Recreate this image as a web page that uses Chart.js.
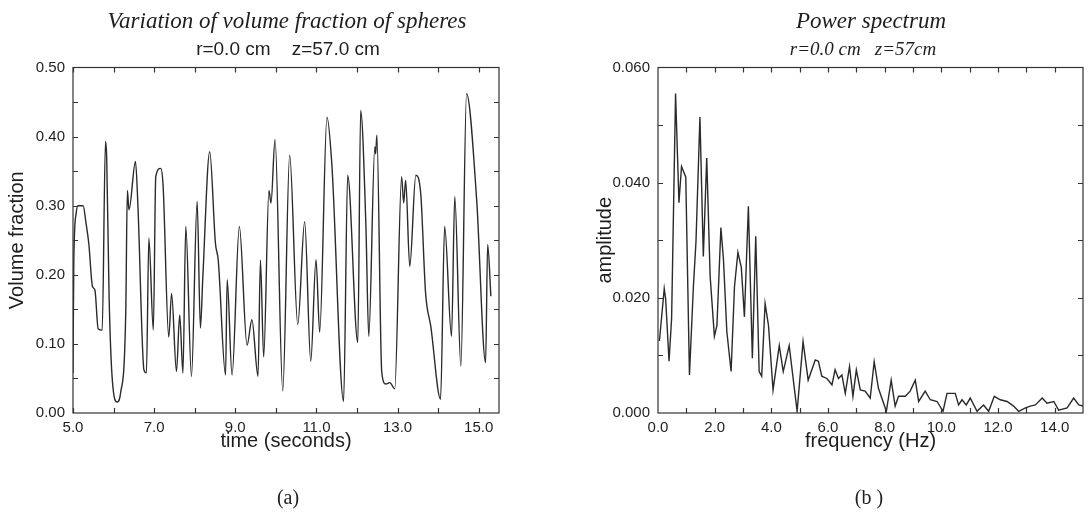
<!DOCTYPE html>
<html>
<head>
<meta charset="utf-8">
<script src="https://cdn.jsdelivr.net/npm/chart.js@4/dist/chart.umd.min.js"></script>
<style>
  body { margin: 0; background: #fff; width: 1091px; height: 517px; overflow: hidden; position: relative; }
  .box { position: absolute; top: 0; height: 517px; }
  .txt { position: absolute; transform: translate(-50%, -50%); white-space: pre; color: #1e1e1e; line-height: 1; }
  .serif { font-family: "Liberation Serif", "DejaVu Serif", serif; }
  .sans { font-family: "Liberation Sans", Arial, sans-serif; }
</style>
</head>
<body>
<div class="box" style="left:0;width:545px"><canvas id="chartA"></canvas></div>
<div class="box" style="left:545px;width:546px"><canvas id="chartB"></canvas></div>

<div class="txt serif" style="left:287px;top:20px;font-size:23px;font-style:italic">Variation of volume fraction of spheres</div>
<div class="txt sans" style="left:288px;top:48px;font-size:19px">r=0.0 cm    z=57.0 cm</div>
<div class="txt serif" style="left:871px;top:20px;font-size:23px;font-style:italic">Power spectrum</div>
<div class="txt serif" style="left:863px;top:48px;font-size:19px;font-style:italic">r=0.0 cm   z=57cm</div>
<div class="txt serif" style="left:288px;top:497px;font-size:20px">(a)</div>
<div class="txt serif" style="left:869px;top:497px;font-size:20px">(b )</div>

<script>
// (a) volume fraction vs time
const timeSec = [5.00, 5.02, 5.08, 5.12, 5.25, 5.32, 5.39, 5.48, 5.54, 5.62, 5.72, 5.80, 5.83, 5.89, 5.97,
  6.09, 6.17, 6.30, 6.34, 6.38, 6.54, 6.60, 6.75, 6.81, 6.87, 6.98, 7.04, 7.16, 7.22, 7.36, 7.43, 7.55,
  7.63, 7.71, 7.78, 7.92, 8.06, 8.14, 8.20, 8.37, 8.51, 8.58, 8.76, 8.80, 8.92, 9.10, 9.29, 9.41, 9.56,
  9.62, 9.70, 9.83, 9.88, 9.98, 10.17, 10.34, 10.54, 10.71, 10.86, 10.99, 11.08, 11.26, 11.38, 11.67,
  11.77, 12.02, 12.09, 12.22, 12.29, 12.44, 12.46, 12.49, 12.61, 12.71, 12.81, 12.93, 13.10, 13.15,
  13.20, 13.30, 13.45, 13.57, 13.69, 13.82, 14.06, 14.16, 14.33, 14.41, 14.56, 14.70, 14.95, 15.17,
  15.22, 15.30];
const volumeFraction = [0.058, 0.22, 0.29, 0.30, 0.30, 0.275, 0.245, 0.183, 0.178, 0.122, 0.12, 0.393, 0.37, 0.168, 0.047,
  0.016, 0.028, 0.145, 0.322, 0.294, 0.364, 0.30, 0.062, 0.058, 0.253, 0.12, 0.342, 0.354, 0.33, 0.11, 0.173, 0.06,
  0.142, 0.058, 0.27, 0.053, 0.306, 0.123, 0.197, 0.378, 0.246, 0.221, 0.055, 0.193, 0.055, 0.27, 0.098, 0.135, 0.053,
  0.221, 0.081, 0.322, 0.304, 0.396, 0.032, 0.373, 0.128, 0.277, 0.075, 0.222, 0.117, 0.428, 0.36, 0.017,
  0.344, 0.102, 0.438, 0.27, 0.111, 0.385, 0.375, 0.402, 0.059, 0.042, 0.044, 0.035, 0.342, 0.304,
  0.337, 0.212, 0.344, 0.318, 0.174, 0.125, 0.02, 0.27, 0.111, 0.313, 0.068, 0.462, 0.308, 0.073,
  0.244, 0.169];

// (b) power spectrum
const freqHz = [0.05, 0.22, 0.27, 0.39, 0.48, 0.62, 0.74, 0.83, 0.98, 1.11, 1.25, 1.34, 1.48, 1.60, 1.72, 1.84,
  1.99, 2.08, 2.22, 2.31, 2.43, 2.58, 2.70, 2.82, 2.94, 3.05, 3.19, 3.33, 3.45, 3.57, 3.66, 3.78, 3.90,
  4.06, 4.28, 4.42, 4.63, 4.91, 5.12, 5.30, 5.55, 5.66, 5.78, 5.96, 6.14, 6.25, 6.37, 6.49, 6.61, 6.76,
  6.88, 7.00, 7.14, 7.31, 7.49, 7.63, 7.78, 8.06, 8.23, 8.37, 8.49, 8.73, 8.90, 9.08, 9.20, 9.43, 9.61,
  9.85, 10.06, 10.20, 10.49, 10.61, 10.73, 10.88, 11.02, 11.26, 11.49, 11.67, 11.87, 12.08, 12.32, 12.55,
  12.73, 12.97, 13.14, 13.32, 13.56, 13.73, 13.97, 14.14, 14.44, 14.67, 14.85, 15.00];
const amplitude = [0.0125, 0.0216, 0.0198, 0.009, 0.0164, 0.0555, 0.0365, 0.0428, 0.041, 0.0066, 0.022, 0.0297, 0.0514, 0.0272, 0.0443, 0.0238,
  0.0133, 0.0152, 0.0322, 0.0267, 0.0141, 0.0072, 0.022, 0.0279, 0.0253, 0.0167, 0.0359, 0.0095, 0.0307, 0.0072, 0.0064, 0.019, 0.0152,
  0.004, 0.0117, 0.0072, 0.0117, 0.0003, 0.0124, 0.0057, 0.0092, 0.009, 0.0064, 0.006, 0.0049, 0.0075, 0.006, 0.0066, 0.0034, 0.0081,
  0.0029, 0.0075, 0.004, 0.0038, 0.0026, 0.0089, 0.0043, 0.0003, 0.0057, 0.0012, 0.0029, 0.0029, 0.0038, 0.0057, 0.002, 0.0038, 0.0023,
  0.002, 0.0003, 0.0034, 0.0034, 0.0014, 0.0023, 0.0014, 0.0026, 0.0003, 0.0014, 0.0003, 0.0029, 0.0023, 0.002, 0.0012,
  0.0003, 0.0009, 0.0012, 0.0014, 0.0026, 0.0017, 0.002, 0.0005, 0.0009, 0.0026, 0.0014, 0.0012];

// tick values
const xTicksA = [5, 7, 9, 11, 13, 15];
const xMinorA = [5, 6, 7, 8, 9, 10, 11, 12, 13, 14, 15];
const yTicksA = [0, 0.1, 0.2, 0.3, 0.4, 0.5];
const yMinorA = [0.05, 0.1, 0.15, 0.2, 0.25, 0.3, 0.35, 0.4, 0.45];
const xTicksB = [0, 2, 4, 6, 8, 10, 12, 14];
const xMinorB = [1, 2, 3, 4, 5, 6, 7, 8, 9, 10, 11, 12, 13, 14];
const yTicksB = [0, 0.02, 0.04, 0.06];
const yMinorB = [0.01, 0.02, 0.03, 0.04, 0.05];

const INK = '#1e1e1e';
const tickFont = { family: '"Liberation Sans Narrow", "Liberation Sans", Arial, sans-serif', size: 15 };
const titleFont = { family: '"Liberation Sans Narrow", "Liberation Sans", Arial, sans-serif', size: 20 };

// frame with inward ticks on all four sides
const frameTicks = {
  id: 'frameTicks',
  afterDraw(chart, args, opts) {
    const { ctx, chartArea: a, scales: { x, y } } = chart;
    const len = 5;
    ctx.save();
    ctx.strokeStyle = '#333';
    ctx.lineWidth = 1.2;
    ctx.strokeRect(a.left, a.top, a.right - a.left, a.bottom - a.top);
    ctx.beginPath();
    opts.xMinor.forEach(v => {
      const px = Math.round(x.getPixelForValue(v)) + 0.5;
      ctx.moveTo(px, a.bottom); ctx.lineTo(px, a.bottom - len);
      ctx.moveTo(px, a.top); ctx.lineTo(px, a.top + len);
    });
    opts.yMinor.forEach(v => {
      const py = Math.round(y.getPixelForValue(v)) + 0.5;
      ctx.moveTo(a.left, py); ctx.lineTo(a.left + len, py);
      ctx.moveTo(a.right, py); ctx.lineTo(a.right - len, py);
    });
    ctx.stroke();
    ctx.restore();
  }
};

function makeChart(id, xs, ys, cfg) {
  return new Chart(document.getElementById(id), {
    type: 'line',
    data: {
      datasets: [{
        data: xs.map((v, i) => ({ x: v, y: ys[i] })),
        borderColor: '#2a2a2a',
        borderWidth: 1.4,
        pointRadius: 0,
        fill: false,
        tension: cfg.smooth ? 0.4 : 0,
        cubicInterpolationMode: cfg.smooth ? 'monotone' : 'default'
      }]
    },
    options: {
      responsive: true,
      maintainAspectRatio: false,
      animation: false,
      layout: { padding: { top: 67.5, right: cfg.padRight, left: 0, bottom: 0 } },
      plugins: {
        legend: { display: false },
        tooltip: { enabled: false },
        frameTicks: { xMinor: cfg.xMinor, yMinor: cfg.yMinor }
      },
      scales: {
        x: {
          type: 'linear',
          min: cfg.xMin, max: cfg.xMax,
          grid: { display: false, drawTicks: false },
          border: { display: false },
          afterBuildTicks: s => { s.ticks = cfg.xTicks.map(v => ({ value: v })); },
          afterFit: s => { s.height = 104; },
          ticks: { color: INK, font: tickFont, padding: 6, maxRotation: 0, callback: v => v.toFixed(1) },
          title: { display: true, text: cfg.xTitle, color: INK, font: titleFont, padding: { top: 0, bottom: 64 } }
        },
        y: {
          min: cfg.yMin, max: cfg.yMax,
          grid: { display: false, drawTicks: false },
          border: { display: false },
          afterBuildTicks: s => { s.ticks = cfg.yTicks.map(v => ({ value: v })); },
          afterFit: s => { s.width = cfg.yWidth; },
          ticks: { color: INK, font: tickFont, padding: 8, callback: v => v.toFixed(cfg.yDec) },
          title: { display: true, text: cfg.yTitle, color: INK, font: titleFont, padding: { top: cfg.yTitlePad, bottom: 0 } }
        }
      }
    },
    plugins: [frameTicks]
  });
}

makeChart('chartA', timeSec, volumeFraction, {
  smooth: true, xMin: 5, xMax: 15.5, yMin: 0, yMax: 0.5,
  xTicks: xTicksA, yTicks: yTicksA, xMinor: xMinorA, yMinor: yMinorA,
  yDec: 2, yWidth: 73, yTitlePad: 5, padRight: 46,
  xTitle: 'time (seconds)', yTitle: 'Volume fraction'
});

makeChart('chartB', freqHz, amplitude, {
  smooth: false, xMin: 0, xMax: 15, yMin: 0, yMax: 0.06,
  xTicks: xTicksB, yTicks: yTicksB, xMinor: xMinorB, yMinor: yMinorB,
  yDec: 3, yWidth: 113, yTitlePad: 48, padRight: 8,
  xTitle: 'frequency (Hz)', yTitle: 'amplitude'
});
</script>
</body>
</html>
